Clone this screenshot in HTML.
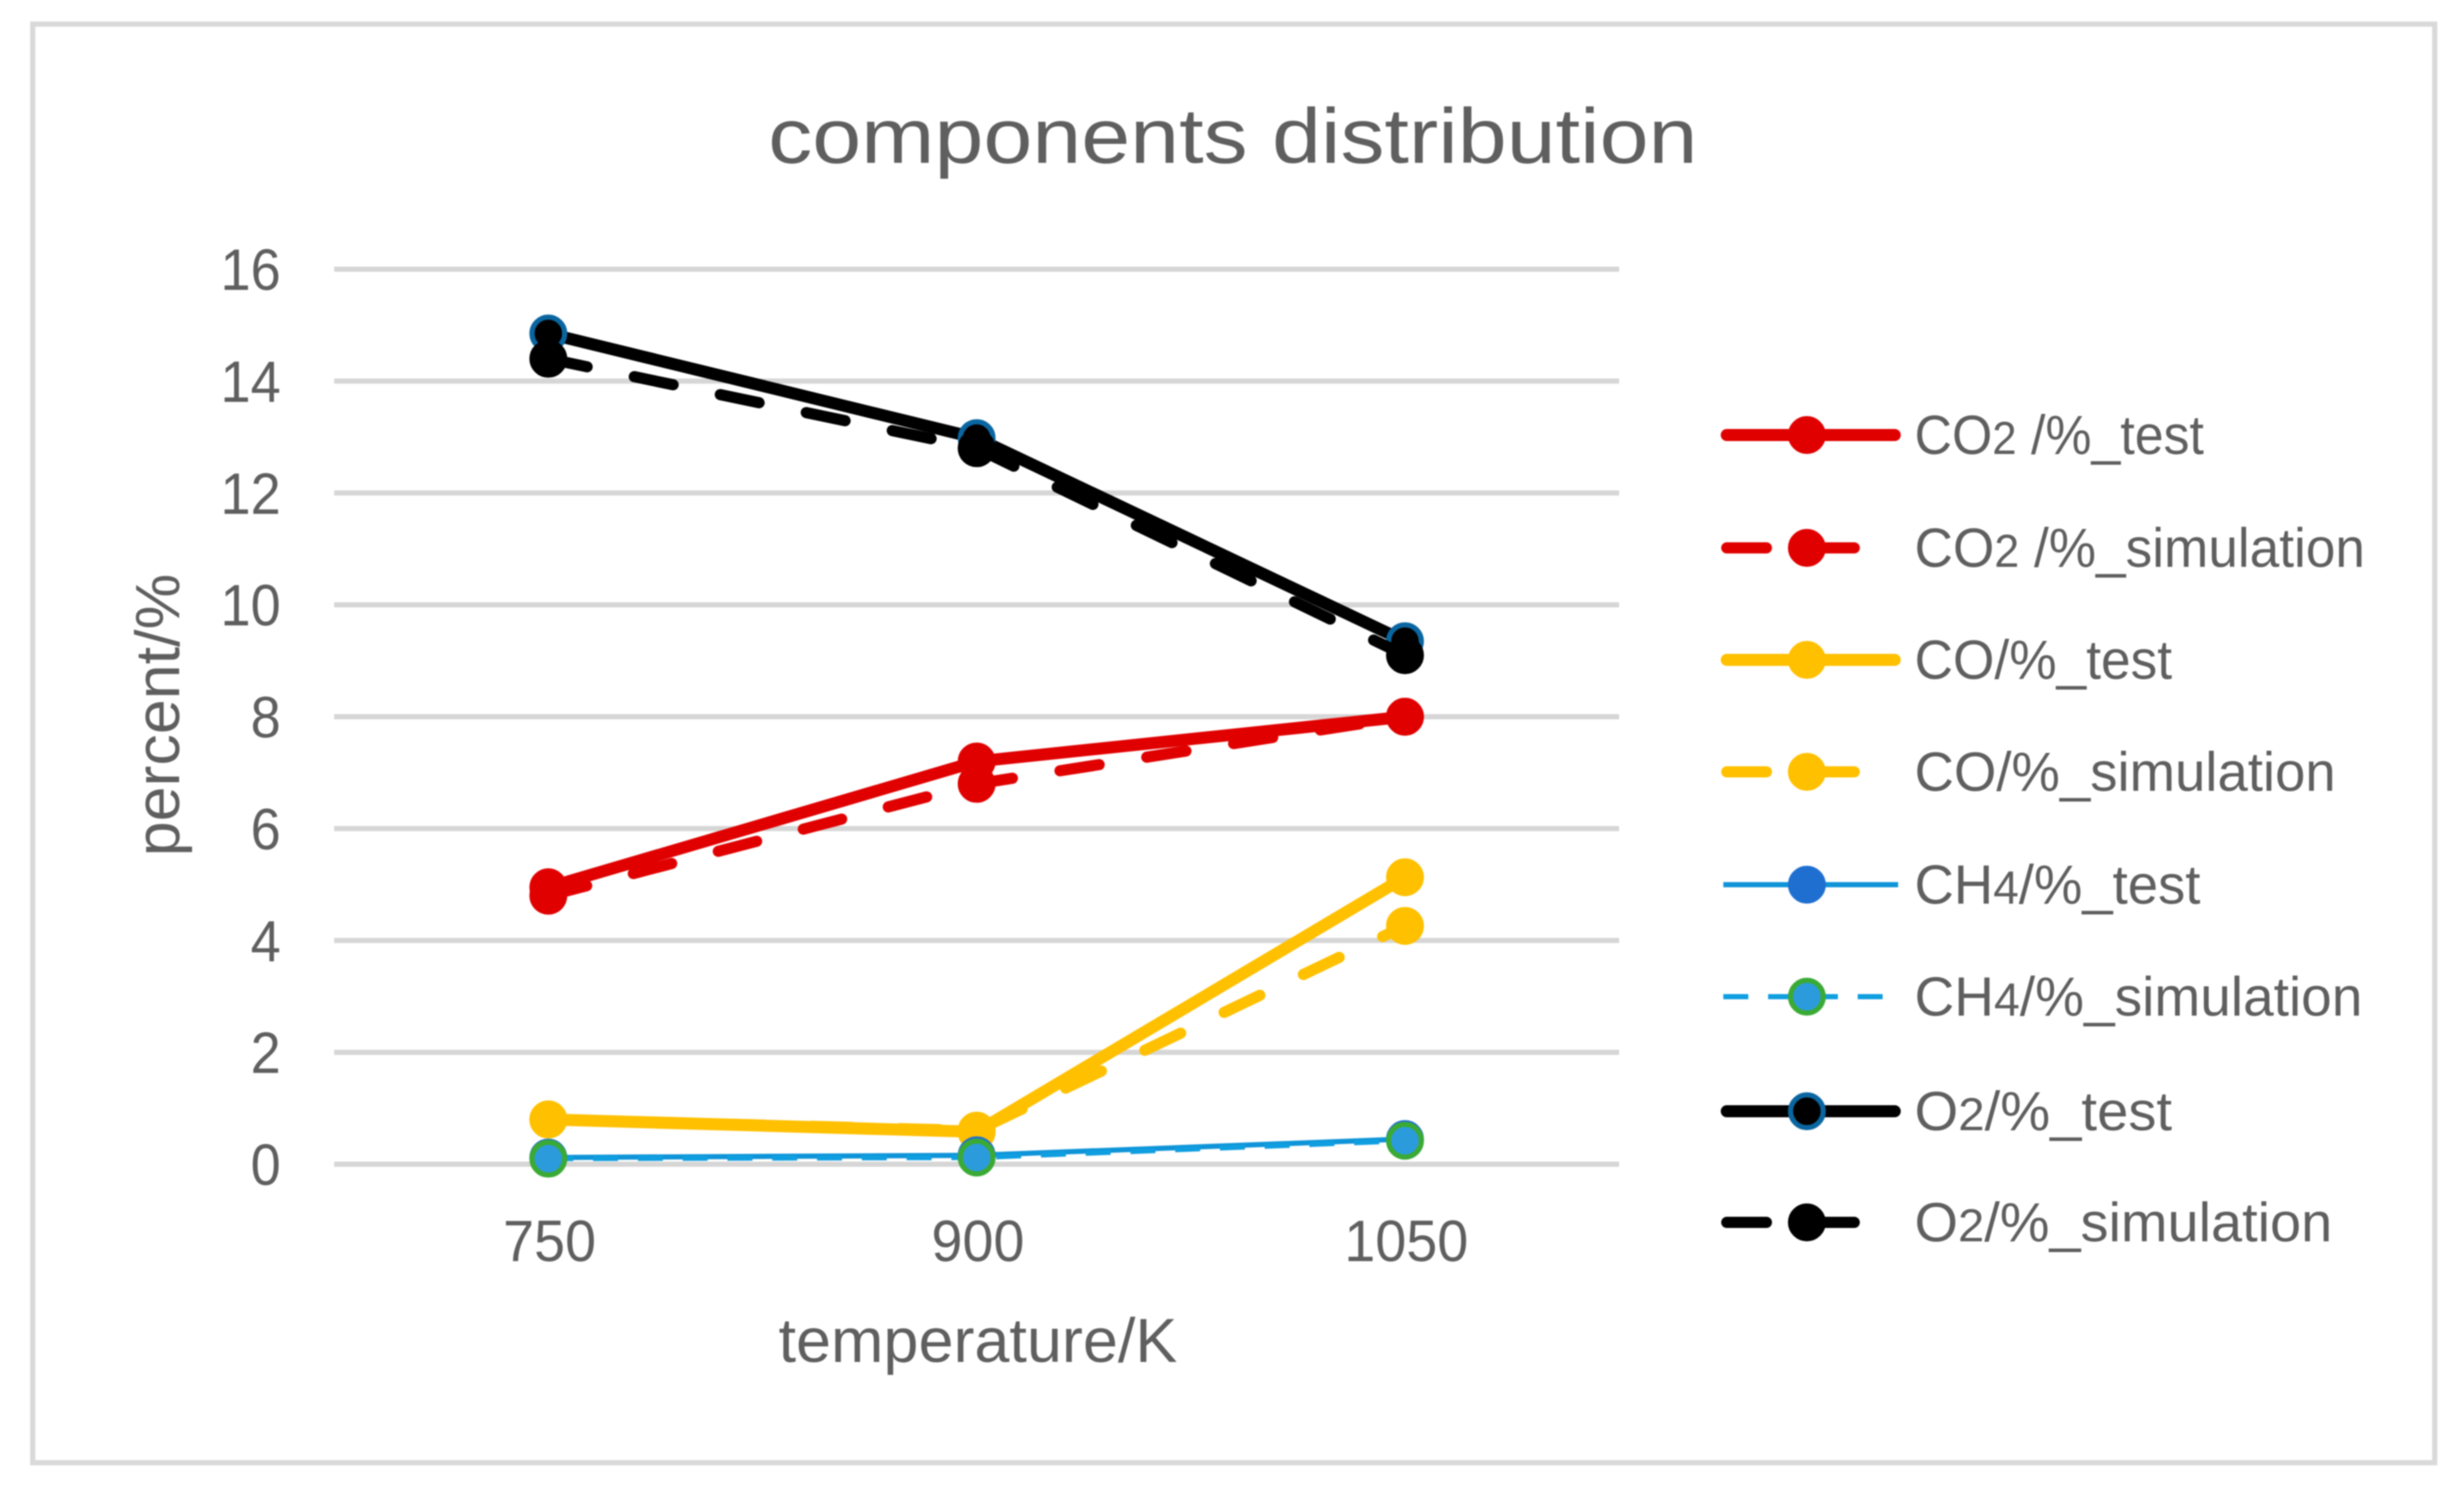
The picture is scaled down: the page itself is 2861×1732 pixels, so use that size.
<!DOCTYPE html>
<html lang="en">
<head>
<meta charset="utf-8">
<title>components distribution</title>
<style>
html,body{margin:0;padding:0;background:#fff;width:2861px;height:1732px;overflow:hidden}
svg{display:block;filter:blur(0.9px)}
text{font-family:"Liberation Sans",sans-serif;fill:#5f5f5f}
</style>
</head>
<body>
<svg id="chart" xmlns="http://www.w3.org/2000/svg" width="2861" height="1732" viewBox="0 0 2861 1732">
  <rect x="0" y="0" width="2861" height="1732" fill="#ffffff"/>
  <rect x="38" y="28" width="2789" height="1670" fill="#ffffff" stroke="#d9d9d9" stroke-width="6"/>
  <text x="892" y="189" font-size="90" textLength="1079" lengthAdjust="spacingAndGlyphs">components distribution</text>
  <g id="grid"></g>
  <g id="yticks"></g>
  <g id="xticks"></g>
  <text x="904" y="1581" font-size="72" textLength="463" lengthAdjust="spacingAndGlyphs">temperature/K</text>
  <text transform="translate(208,994) rotate(-90)" x="0" y="0" font-size="72" textLength="328" lengthAdjust="spacingAndGlyphs">percent/%</text>
  <g id="series"></g>
  <g id="legend"></g>
</svg>
<script>
const categories = ["750", "900", "1050"];
const yTickValues = [0, 2, 4, 6, 8, 10, 12, 14, 16];
const seriesNames = ["co2-test", "co2-simulation", "co-test", "co-simulation", "ch4-test", "ch4-simulation", "o2-test", "o2-simulation"];
const legendLabels = ["CO2 /%_test", "CO2 /%_simulation", "CO/%_test", "CO/%_simulation", "CH4/%_test", "CH4/%_simulation", "O2/%_test", "O2/%_simulation"];
const co2Test = [4.95, 7.2, 8.0];
const co2Simulation = [4.8, 6.8, 8.0];
const coTest = [0.8, 0.58, 5.13];
const coSimulation = [0.8, 0.6, 4.26];
const ch4Test = [0.12, 0.16, 0.45];
const ch4Simulation = [0.1, 0.12, 0.42];
const o2Test = [14.85, 12.98, 9.35];
const o2Simulation = [14.4, 12.8, 9.1];
const seriesValues = [co2Test, co2Simulation, coTest, coSimulation, ch4Test, ch4Simulation, o2Test, o2Simulation];

const NS = "http://www.w3.org/2000/svg";
const plotLeft = 388, plotRight = 1880, yZero = 1351.5, yTop = 312.5, yMax = 16;
const xScale = i => plotLeft + (plotRight - plotLeft) * (i + 0.5) / categories.length;
const yScale = v => yZero - (yZero - yTop) * v / yMax;

const styles = [
  {line:"#e00000", w:14, dash:null, cap:"round", fill:"#e00000", stroke:"#e00000"},
  {line:"#e00000", w:13, dash:"46 56", cap:"round", fill:"#e00000", stroke:"#e00000"},
  {line:"#ffc000", w:14, dash:null, cap:"round", fill:"#ffc000", stroke:"#ffc000"},
  {line:"#ffc000", w:13, dash:"46 56", cap:"round", fill:"#ffc000", stroke:"#ffc000"},
  {line:"#0f94d8", w:6, dash:null, cap:"butt", fill:"#1f6fd0", stroke:"#1f6fd0"},
  {line:"#0f9ee0", w:6, dash:"29 23", cap:"butt", fill:"#2b9bdc", stroke:"#3aaa35"},
  {line:"#000000", w:14, dash:null, cap:"round", fill:"#000000", stroke:"#0a66a0"},
  {line:"#000000", w:13, dash:"46 56", cap:"round", fill:"#000000", stroke:"#000000"}
];
const legendRowY = i => [505, 636, 766, 896, 1027, 1157, 1290, 1419][i];
const legendWidths = [336, 523, 299, 489, 332, 520, 299, 485];

function make(tag, attrs, parent) {
  const el = document.createElementNS(NS, tag);
  for (const k in attrs) el.setAttribute(k, attrs[k]);
  parent.appendChild(el);
  return el;
}

const grid = document.getElementById("grid");
const yticks = document.getElementById("yticks");
yTickValues.forEach(v => {
  const ln = make("line", {x1: plotLeft, x2: plotRight, y1: yScale(v), y2: yScale(v), stroke: "#d6d6d6", "stroke-width": 6}, grid);
  
  
  const label = String(v);
  const w = label.length * 35;
  const t = make("text", {x: 326 - w, y: yScale(v) + 24, "font-size": 68, textLength: w, lengthAdjust: "spacingAndGlyphs"}, yticks);
  
  
  t.textContent = label;
});

const xticks = document.getElementById("xticks");
categories.forEach((c, i) => {
  const w = c.length * 36;
  const t = make("text", {x: xScale(i) + 1.5 - w / 2, y: 1464, "font-size": 68, textLength: w, lengthAdjust: "spacingAndGlyphs"}, xticks);
  
  
  t.textContent = c;
});

const seriesG = document.getElementById("series");
seriesValues.forEach((vals, s) => {
  const st = styles[s];
  const g = make("g", {}, seriesG);
  
  
  const pts = vals.map((v, i) => xScale(i) + "," + yScale(v)).join(" ");
  const pl = make("polyline", {points: pts, fill: "none", stroke: st.line, "stroke-width": st.w, "stroke-linecap": st.cap, "stroke-linejoin": "round"}, g);
  if (st.dash) pl.setAttribute("stroke-dasharray", st.dash);
  
  
  vals.forEach((v, i) => {
    const m = make("circle", {cx: xScale(i), cy: yScale(v), r: 19, fill: st.fill, stroke: st.stroke, "stroke-width": 6}, g);
    
    
  });
});

const legend = document.getElementById("legend");
legendLabels.forEach((label, i) => {
  const st = styles[i];
  const y = legendRowY(i);
  const g = make("g", {}, legend);
  
  
  const inset = st.w > 8 ? 6 : 2;
  const endX = st.dash ? (st.w > 8 ? 2155 : 2187) : 2200;
  const key = make("line", {x1: 1999 + inset, x2: st.dash ? endX : 2206 - inset, y1: y, y2: y, stroke: st.line, "stroke-width": st.w, "stroke-linecap": st.cap}, g);
  if (st.dash) key.setAttribute("stroke-dasharray", st.dash);
  
  
  const mk = make("circle", {cx: 2098, cy: y, r: 19, fill: st.fill, stroke: st.stroke, "stroke-width": 6}, g);
  
  
  const t = make("text", {x: 2223, y: y + 22, "font-size": 64, textLength: legendWidths[i], lengthAdjust: "spacingAndGlyphs"}, g);
  
  
  label.split(/(\d)/).forEach(part => {
    if (!part) return;
    const sp = make("tspan", /\d/.test(part) ? {"font-size": 54} : {}, t);
    sp.textContent = part;
  });
});
</script>
</body>
</html>
